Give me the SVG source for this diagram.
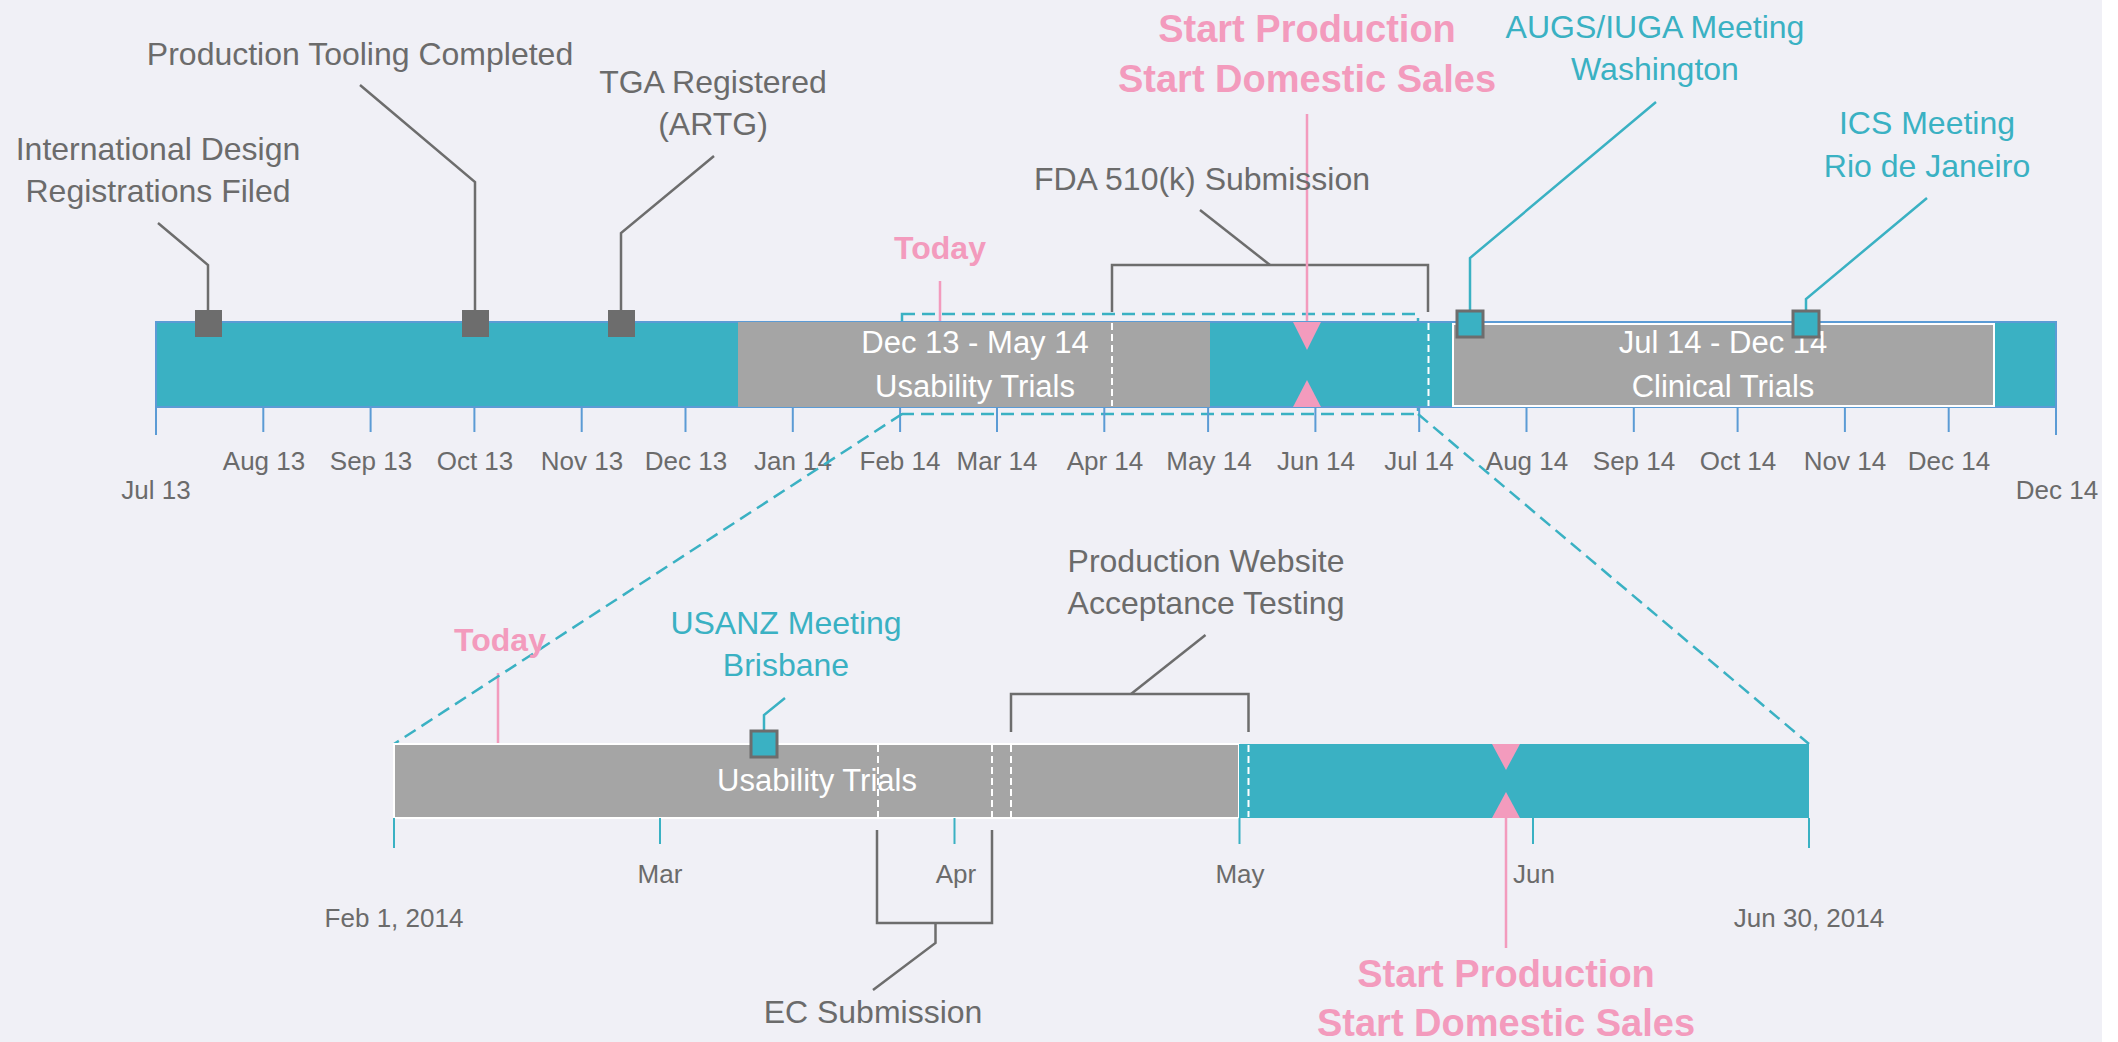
<svg xmlns="http://www.w3.org/2000/svg" width="2118" height="1042" viewBox="0 0 2118 1042">
<style>
text{font-family:"Liberation Sans",Arial,sans-serif;}
.lbl{font-size:32px;fill:#6b6b6b;text-anchor:middle;}
.tl{font-size:32px;fill:#3ab1c3;text-anchor:middle;}
.ax{font-size:26px;fill:#6b6b6b;text-anchor:middle;}
.bt{font-size:31px;fill:#ffffff;text-anchor:middle;}
.pk{font-weight:bold;fill:#f39bbd;text-anchor:middle;}
.ld{fill:none;stroke:#6d6d6d;stroke-width:2.5;}
.tld{fill:none;stroke:#3ab1c3;stroke-width:2.5;}
.pl{stroke:#f39bbd;stroke-width:2.5;}
.tk{stroke:#5b9bd5;stroke-width:2;}
.tk2{stroke:#3ab1c3;stroke-width:2;}
.wd{stroke:#ffffff;stroke-width:2;stroke-dasharray:7 4;}
.zd{fill:none;stroke:#3ab1c3;stroke-width:2.5;stroke-dasharray:13 7;}
.teal{fill:#3ab1c3;}
.grey{fill:#a5a5a5;stroke:#ffffff;stroke-width:2;}
.mk{fill:#6d6d6d;}
.tmk{fill:#3ab1c3;stroke:#6d6d6d;stroke-width:3;}
.tri{fill:#f39bbd;}
</style>
<rect x="0" y="0" width="2118" height="1042" fill="#ffffff"/>
<rect x="0" y="0" width="2102" height="1042" fill="#f0f0f6"/>

<g id="connectors">
  <!-- zoom region -->
  <rect class="zd" x="902" y="314" width="516" height="100"/>
  <!-- leaders top -->
  <polyline class="ld" points="158,223 208,265 208,310"/>
  <polyline class="ld" points="360,85 475,182 475,310"/>
  <polyline class="ld" points="714,156 621,233 621,310"/>
  <path class="ld" d="M1112,312 V265 H1428 V312"/>
  <line class="ld" x1="1200" y1="210" x2="1270" y2="265"/>
  <polyline class="tld" points="1656,102 1470,258 1470,310"/>
  <polyline class="tld" points="1927,198 1806,299 1806,310"/>
  <line class="pl" x1="1307" y1="114" x2="1307" y2="322"/>
  <line class="pl" x1="940" y1="281" x2="940" y2="322"/>
  <!-- lower leaders -->
  <polyline class="tld" points="785,698 764,715 764,731"/>
  <path class="ld" d="M877,830 V923 H992 V830"/>
  <polyline class="ld" points="935.5,923 935.5,943 873,990"/>
  <path class="ld" d="M1011,732 V694 H1248.5 V732"/>
  <line class="ld" x1="1131" y1="694" x2="1205.5" y2="635"/>
  <line class="pl" x1="498" y1="673" x2="498" y2="744"/>
  <line class="pl" x1="1506" y1="818" x2="1506" y2="948"/>
</g>

<g id="top-timeline">
  <rect x="156" y="322" width="1900" height="85" fill="#3ab1c3" stroke="#5b9bd5" stroke-width="2"/>
  <rect x="738" y="322" width="472" height="85" fill="#a5a5a5"/>
  <rect class="grey" x="1453" y="324" width="541" height="82"/>
  <line class="wd" x1="1112" y1="323" x2="1112" y2="406"/>
  <line class="wd" x1="1428.5" y1="323" x2="1428.5" y2="406"/>
  <polygon class="tri" points="1293,322 1321,322 1307,350"/>
  <polygon class="tri" points="1293,407 1321,407 1307,380"/>
  <text class="bt" x="975" y="353">Dec 13 - May 14</text>
  <text class="bt" x="975" y="397">Usability Trials</text>
  <text class="bt" x="1723" y="353">Jul 14 - Dec 14</text>
  <text class="bt" x="1723" y="397">Clinical Trials</text>
</g>

<g id="top-axis">
  <line class="tk" x1="156" y1="407" x2="156" y2="435"/>
  <line class="tk" x1="263.3" y1="407" x2="263.3" y2="432"/>
  <line class="tk" x1="370.6" y1="407" x2="370.6" y2="432"/>
  <line class="tk" x1="474.4" y1="407" x2="474.4" y2="432"/>
  <line class="tk" x1="581.7" y1="407" x2="581.7" y2="432"/>
  <line class="tk" x1="685.5" y1="407" x2="685.5" y2="432"/>
  <line class="tk" x1="792.8" y1="407" x2="792.8" y2="432"/>
  <line class="tk" x1="900.1" y1="407" x2="900.1" y2="432"/>
  <line class="tk" x1="997" y1="407" x2="997" y2="432"/>
  <line class="tk" x1="1104.3" y1="407" x2="1104.3" y2="432"/>
  <line class="tk" x1="1208.1" y1="407" x2="1208.1" y2="432"/>
  <line class="tk" x1="1315.4" y1="407" x2="1315.4" y2="432"/>
  <line class="tk" x1="1419.2" y1="407" x2="1419.2" y2="432"/>
  <line class="tk" x1="1526.5" y1="407" x2="1526.5" y2="432"/>
  <line class="tk" x1="1633.8" y1="407" x2="1633.8" y2="432"/>
  <line class="tk" x1="1737.6" y1="407" x2="1737.6" y2="432"/>
  <line class="tk" x1="1844.9" y1="407" x2="1844.9" y2="432"/>
  <line class="tk" x1="1948.7" y1="407" x2="1948.7" y2="432"/>
  <line class="tk" x1="2056" y1="407" x2="2056" y2="435"/>
  <text class="ax" x="156" y="499">Jul 13</text>
  <text class="ax" x="264" y="470">Aug 13</text>
  <text class="ax" x="371" y="470">Sep 13</text>
  <text class="ax" x="475" y="470">Oct 13</text>
  <text class="ax" x="582" y="470">Nov 13</text>
  <text class="ax" x="686" y="470">Dec 13</text>
  <text class="ax" x="793" y="470">Jan 14</text>
  <text class="ax" x="900" y="470">Feb 14</text>
  <text class="ax" x="997" y="470">Mar 14</text>
  <text class="ax" x="1105" y="470">Apr 14</text>
  <text class="ax" x="1209" y="470">May 14</text>
  <text class="ax" x="1316" y="470">Jun 14</text>
  <text class="ax" x="1419" y="470">Jul 14</text>
  <text class="ax" x="1527" y="470">Aug 14</text>
  <text class="ax" x="1634" y="470">Sep 14</text>
  <text class="ax" x="1738" y="470">Oct 14</text>
  <text class="ax" x="1845" y="470">Nov 14</text>
  <text class="ax" x="1949" y="470">Dec 14</text>
  <text class="ax" x="2057" y="499">Dec 14</text>
</g>

<g id="zoom-lines">
  <line class="zd" x1="902" y1="414" x2="394" y2="744"/>
  <line class="zd" x1="1418" y1="414" x2="1809" y2="744"/>
</g>

<g id="node-intl-design">
  <rect class="mk" x="195" y="310" width="27" height="27"/>
  <text class="lbl" x="158" y="160">International Design</text>
  <text class="lbl" x="158" y="202">Registrations Filed</text>
</g>
<g id="node-tooling">
  <rect class="mk" x="462" y="310" width="27" height="27"/>
  <text class="lbl" x="360" y="65">Production Tooling Completed</text>
</g>
<g id="node-tga">
  <rect class="mk" x="608" y="310" width="27" height="27"/>
  <text class="lbl" x="713" y="93">TGA Registered</text>
  <text class="lbl" x="713" y="135">(ARTG)</text>
</g>
<g id="node-fda">
  <text class="lbl" x="1202" y="190">FDA 510(k) Submission</text>
</g>
<g id="node-start-production-top">
  <text class="pk" x="1307" y="42" font-size="38">Start Production</text>
  <text class="pk" x="1307" y="92" font-size="38">Start Domestic Sales</text>
</g>
<g id="node-today-top">
  <text class="pk" x="940" y="259" font-size="32">Today</text>
</g>
<g id="node-augs">
  <rect class="tmk" x="1457" y="311" width="26" height="26"/>
  <text class="tl" x="1655" y="38">AUGS/IUGA Meeting</text>
  <text class="tl" x="1655" y="80">Washington</text>
</g>
<g id="node-ics">
  <rect class="tmk" x="1793" y="311" width="26" height="26"/>
  <text class="tl" x="1927" y="134">ICS Meeting</text>
  <text class="tl" x="1927" y="177">Rio de Janeiro</text>
</g>

<g id="lower-timeline">
  <rect class="grey" x="394" y="744" width="845" height="74"/>
  <rect class="teal" x="1239" y="744" width="570" height="74"/>
  <line class="wd" x1="878" y1="745" x2="878" y2="817"/>
  <line class="wd" x1="992" y1="745" x2="992" y2="817"/>
  <line class="wd" x1="1011" y1="745" x2="1011" y2="817"/>
  <line class="wd" x1="1248.5" y1="745" x2="1248.5" y2="817"/>
  <polygon class="tri" points="1492,744 1520,744 1506,770"/>
  <polygon class="tri" points="1492,818 1520,818 1506,792"/>
  <text class="bt" x="817" y="791">Usability Trials</text>
</g>

<g id="lower-axis">
  <line class="tk2" x1="394" y1="818" x2="394" y2="848"/>
  <line class="tk2" x1="660" y1="818" x2="660" y2="844"/>
  <line class="tk2" x1="954.5" y1="818" x2="954.5" y2="844"/>
  <line class="tk2" x1="1239.5" y1="818" x2="1239.5" y2="844"/>
  <line class="tk2" x1="1533" y1="818" x2="1533" y2="844"/>
  <line class="tk2" x1="1809" y1="818" x2="1809" y2="848"/>
  <text class="ax" x="394" y="927">Feb 1, 2014</text>
  <text class="ax" x="660" y="883">Mar</text>
  <text class="ax" x="956" y="883">Apr</text>
  <text class="ax" x="1240" y="883">May</text>
  <text class="ax" x="1534" y="883">Jun</text>
  <text class="ax" x="1809" y="927">Jun 30, 2014</text>
</g>

<g id="node-usanz">
  <rect class="tmk" x="751" y="731" width="26" height="26"/>
  <text class="tl" x="786" y="634">USANZ Meeting</text>
  <text class="tl" x="786" y="676">Brisbane</text>
</g>
<g id="node-today-lower">
  <text class="pk" x="500" y="651" font-size="32">Today</text>
</g>
<g id="node-pwat">
  <text class="lbl" x="1206" y="572">Production Website</text>
  <text class="lbl" x="1206" y="614">Acceptance Testing</text>
</g>
<g id="node-ec">
  <text class="lbl" x="873" y="1023">EC Submission</text>
</g>
<g id="node-start-production-lower">
  <text class="pk" x="1506" y="987" font-size="38">Start Production</text>
  <text class="pk" x="1506" y="1036" font-size="38">Start Domestic Sales</text>
</g>
</svg>
